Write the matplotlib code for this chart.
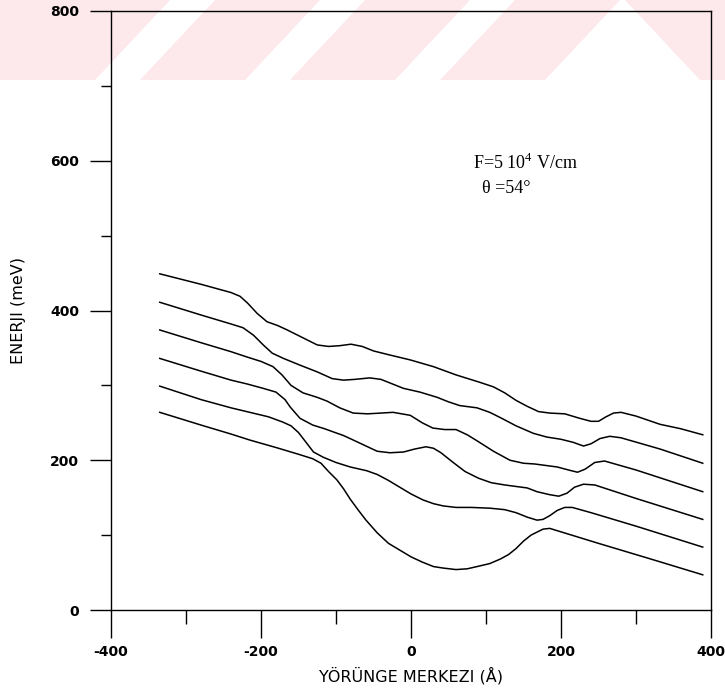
import numpy as np
import matplotlib
matplotlib.use("Agg")
import matplotlib.pyplot as plt
from matplotlib.patches import Polygon

# orbit centre (A) and energy (meV) for the six levels
x1 = [-335, -280, -240, -228, -218, -205, -192, -178, -165, -145, -125, -110, -95, -80, -65, -50, -30, -1,
      30, 60, 92, 110, 125, 140, 155, 170, 185, 205, 225, 240, 250, 260, 270, 280, 300, 332, 360, 389]
e1 = [449, 435, 424, 419, 410, 396, 385, 380, 374, 364, 354, 352, 353, 355, 352, 346, 341, 334,
      325, 314, 304, 298, 290, 280, 272, 265, 263, 262, 256, 252, 252, 258, 263, 264, 259, 248, 242, 234]

x2 = [-335, -280, -240, -224, -210, -197, -185, -170, -148, -125, -105, -90, -75, -55, -40, -25, -10, 12,
      35, 50, 65, 88, 105, 119, 140, 163, 181, 200, 216, 230, 240, 252, 265, 280, 332, 389]
e2 = [411, 394, 382, 377, 367, 354, 343, 336, 327, 318, 309, 307, 308, 310, 308, 302, 296, 291,
      284, 278, 273, 270, 264, 257, 246, 236, 231, 228, 224, 219, 222, 229, 232, 230, 215, 196]

x3 = [-335, -280, -240, -219, -200, -184, -172, -160, -144, -125, -112, -95, -77, -58, -40, -24, -1, 15,
      29, 45, 60, 75, 88, 110, 132, 150, 165, 180, 195, 210, 222, 232, 245, 258, 300, 389]
e3 = [374, 357, 345, 338, 332, 325, 314, 300, 290, 284, 279, 270, 263, 262, 263, 264, 260, 250,
      243, 241, 241, 234, 226, 212, 200, 196, 195, 193, 191, 187, 184, 188, 197, 199, 187, 158]

x4 = [-335, -280, -240, -219, -197, -180, -168, -161, -148, -131, -115, -104, -90, -77, -60, -45, -28, -10,
      5, 20, 30, 40, 55, 72, 90, 107, 125, 140, 155, 168, 185, 197, 208, 218, 230, 245, 300, 389]
e4 = [336, 319, 307, 302, 296, 291, 281, 271, 256, 247, 242, 238, 233, 227, 219, 212, 210, 211,
      215, 218, 216, 210, 198, 185, 176, 170, 167, 165, 163, 158, 154, 152, 156, 164, 168, 167, 149, 121]

x5 = [-335, -280, -240, -215, -190, -171, -160, -150, -140, -130, -117, -100, -81, -59, -45, -30, -15, 0,
      16, 30, 43, 60, 80, 105, 125, 140, 155, 168, 176, 185, 195, 205, 215, 240, 300, 389]
e5 = [299, 281, 270, 264, 258, 251, 246, 237, 224, 211, 204, 197, 191, 186, 181, 173, 164, 155,
      147, 142, 139, 137, 137, 136, 134, 130, 124, 120, 121, 126, 133, 137, 137, 130, 112, 84]

x6 = [-335, -280, -240, -215, -180, -150, -131, -120, -110, -99, -90, -81, -70, -60, -45, -30, -15, 0,
      15, 30, 43, 60, 75, 88, 105, 119, 130, 140, 150, 160, 168, 176, 185, 250, 320, 389]
e6 = [264, 247, 235, 227, 217, 208, 202, 196, 185, 174, 162, 148, 133, 120, 103, 89, 80, 71,
      64, 58, 56, 54, 55, 58, 62, 68, 74, 82, 92, 100, 104, 108, 109, 89, 68, 47]

curves = [(x1, e1), (x2, e2), (x3, e3), (x4, e4), (x5, e5), (x6, e6)]

xticks = [-400, -200, 0, 200, 400]
yticks = [0, 200, 400, 600, 800]

plt.rcParams['axes.unicode_minus'] = False
plt.rcParams['mathtext.fontset'] = 'custom'
plt.rcParams['mathtext.rm'] = 'Liberation Serif'

W, H = 725, 693
fig = plt.figure(figsize=(W / 100, H / 100), dpi=100)

# faint pink stripes across the top (scan watermark), in pixel coords
stripes = [
    [(0, 80), (95, 80), (170, 0), (0, 0)],
    [(140, 80), (245, 80), (320, 0), (215, 0)],
    [(290, 80), (395, 80), (470, 0), (365, 0)],
    [(440, 80), (545, 80), (620, 0), (515, 0)],
    [(625, 0), (725, 0), (725, 80), (700, 80)],
]
for s in stripes:
    pts = [(px / W, 1 - py / H) for px, py in s]
    fig.add_artist(Polygon(pts, closed=True, transform=fig.transFigure,
                           facecolor='#fde8ec', edgecolor='none', zorder=-5))

ax = fig.add_axes([111 / W, 1 - 610 / H, 600 / W, 599 / H])
ax.set_facecolor('none')

for xs, es in curves:
    ax.plot(xs, es, color='black', lw=1.1)

ax.set_xlim(-400, 400)
ax.set_ylim(0, 800)
ax.set_xticks(xticks)
ax.set_yticks(yticks)
ax.set_xticks([-300, -100, 100, 300], minor=True)
ax.set_yticks([100, 300, 500, 700], minor=True)
ax.tick_params(axis='x', which='major', direction='out', length=20, width=1, pad=5)
ax.tick_params(axis='x', which='minor', direction='out', length=10, width=1)
ax.tick_params(axis='y', which='major', direction='out', length=15, width=1, pad=8)
ax.tick_params(axis='y', which='minor', direction='out', length=7, width=1)
for lab in ax.get_xticklabels() + ax.get_yticklabels():
    lab.set_fontweight('bold')
    lab.set_fontsize(10)
for sp in ax.spines.values():
    sp.set_linewidth(1.0)

ax.set_xlabel('YÖRÜNGE MERKEZI (Å)', fontsize=11.5)
ax.set_ylabel('ENERJI (meV)', fontsize=11.5)
ax.xaxis.set_label_coords(0.5, -0.095)
ax.yaxis.set_label_coords(-0.142, 0.5)

ax.text(83, 597, r'F=5 10$^{\mathregular{4}}$ V/cm', family='Liberation Serif',
        fontsize=13, ha='left', va='center')
ax.text(95, 563, 'θ =54°', family='Liberation Serif', fontsize=13, ha='left', va='center')

fig.savefig('out.png', dpi=100)
